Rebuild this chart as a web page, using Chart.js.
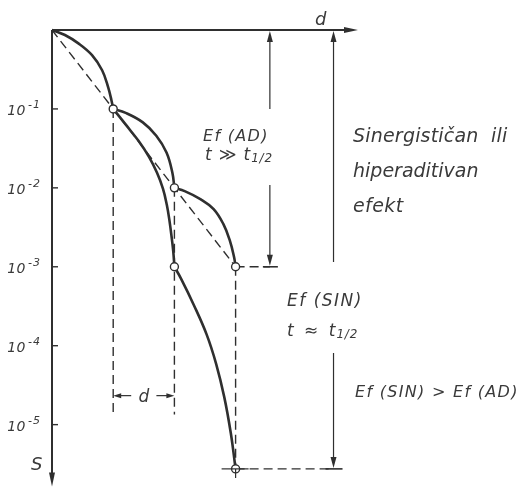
<!DOCTYPE html>
<html>
<head>
<meta charset="utf-8">
<script src="https://cdn.jsdelivr.net/npm/chart.js@4"></script>
<style>
  html, body { margin: 0; padding: 0; background: #fff; }
  #graf { display: block; }
</style>
</head>
<body>
<canvas id="graf" width="517" height="492"></canvas>
<script>
// os doze d i os preživljavanja S (logaritamska)
const dMax = 5;
const sMin = 1.64e-6;

// prvi dio krivulje, zajednički za oba slučaja
const dosePrva = [0, 0.211, 0.431, 0.654, 0.819, 0.917, 0.972, 1];
const sPrva = [1, 0.864, 0.677, 0.480, 0.309, 0.189, 0.128, 0.1];

// aditivni efekt, t >> t1/2
const doseAd2 = [1, 1.204, 1.484, 1.704, 1.871, 1.967, 2];
const sAd2 = [0.1, 0.0890, 0.0675, 0.0457, 0.0280, 0.01553, 0.01];
const doseAd3 = [2, 2.168, 2.431, 2.641, 2.799, 2.905, 2.974, 3];
const sAd3 = [0.01, 0.00908, 0.00715, 0.00538, 0.00349, 0.00216, 0.00134, 0.001];

// sinergistički efekt, t ≈ t1/2
const doseSin2 = [1, 1.209, 1.413, 1.585, 1.716, 1.814, 1.876, 1.920, 1.954, 1.982, 2];
const sSin2 = [0.1, 0.0627, 0.0394, 0.0247, 0.01549, 0.00971, 0.00609, 0.00382, 0.00240, 0.00155, 0.001];
const doseSin3 = [2, 2.106, 2.315, 2.526, 2.683, 2.815, 2.922, 3];
const sSin3 = [0.001, 7.13e-4, 3.31e-4, 1.393e-4, 5.86e-5, 2.23e-5, 7.76e-6, 2.75e-6];

// pravac kroz ishodište i krajnje točke
const dosePravac = [0, 3];
const sPravac = [1, 0.001];

// točke nakon svake doze
const doseTocke = [1, 2, 2, 3, 3];
const sTocke = [0.1, 0.01, 0.001, 0.001, 2.75e-6];

// oznake na osi S
const sOznake = [1e-1, 1e-2, 1e-3, 1e-4, 1e-5];
const sEksponenti = ['-1', '-2', '-3', '-4', '-5'];

// kote: Ef(AD) i Ef(SIN)
const dKotaAd = 3.56, sKotaAd = 0.001;
const dKotaSin = 4.6, sKotaSin = 2.75e-6;
const sDnoCrta = 1.34e-5;   // kraj isprekidanih okomica
const sMjeraD = 2.33e-5;    // visina kote d

const CRTA = '#2f2f2f';
const TEKST = '#3a3a3a';
const FONT = '"DejaVu Sans"';

function niz(dose, s) {
  return dose.map((d, i) => ({ x: d, y: s[i] }));
}

function krivulja(dose, s) {
  return {
    data: niz(dose, s), showLine: true, borderColor: CRTA, borderWidth: 2.6,
    pointRadius: 0, tension: 0.4, clip: false
  };
}

function isprekidana(dose, s) {
  return {
    data: niz(dose, s), showLine: true, borderColor: CRTA, borderWidth: 1.4,
    borderDash: [9, 5], pointRadius: 0, clip: false
  };
}

function strelica(ctx, x, y, dx, dy, duz, pola) {
  ctx.beginPath();
  ctx.moveTo(x, y);
  ctx.lineTo(x - dx * duz - dy * pola, y - dy * duz + dx * pola);
  ctx.lineTo(x - dx * duz + dy * pola, y - dy * duz - dx * pola);
  ctx.closePath();
  ctx.fill();
}

function crta(ctx, x1, y1, x2, y2) {
  ctx.beginPath();
  ctx.moveTo(x1, y1);
  ctx.lineTo(x2, y2);
  ctx.stroke();
}

function tekst(ctx, s, x, y, size, razmak) {
  ctx.font = `italic ${size}px ${FONT}`;
  ctx.letterSpacing = (razmak || 0) + 'px';
  ctx.fillText(s, x, y);
  const w = ctx.measureText(s).width;
  ctx.letterSpacing = '0px';
  return w;
}

// t s indeksom 1/2
function tPola(ctx, x, y) {
  const w = tekst(ctx, 't', x, y, 17, 0);
  tekst(ctx, '1/2', x + w + 1, y + 2, 12, 0.8);
}

const osi = {
  id: 'osi',
  beforeDatasetsDraw(chart) {
    const { ctx, scales: { x, y } } = chart;
    const x0 = x.getPixelForValue(0);
    const y0 = y.getPixelForValue(1);
    const xK = x.getPixelForValue(dMax);
    const yK = y.getPixelForValue(sMin);
    ctx.save();
    ctx.strokeStyle = CRTA;
    ctx.fillStyle = CRTA;
    ctx.lineWidth = 2;
    crta(ctx, x0, y0, xK - 8, y0);
    strelica(ctx, xK, y0, 1, 0, 14, 3);
    crta(ctx, x0, y0, x0, yK - 8);
    strelica(ctx, x0, yK, 0, 1, 14, 3);

    ctx.lineWidth = 1.4;
    ctx.fillStyle = TEKST;
    ctx.textBaseline = 'alphabetic';
    sOznake.forEach((v, i) => {
      const yy = y.getPixelForValue(v);
      crta(ctx, x0, yy, x0 + 6, yy);
      ctx.textAlign = 'right';
      tekst(ctx, '10', 26, yy + 6, 14, 0.5);
      ctx.textAlign = 'left';
      tekst(ctx, sEksponenti[i], 28, yy - 1, 11, 1);
    });
    tekst(ctx, 'S', 31, yK - 17, 18, 0);
    tekst(ctx, 'd', 315, 25, 18, 0);
    ctx.restore();
  },
  afterDatasetsDraw(chart) {
    const { ctx, scales: { x, y } } = chart;
    const y0 = y.getPixelForValue(1);
    ctx.save();
    ctx.strokeStyle = CRTA;
    ctx.fillStyle = CRTA;

    // kota Ef(AD)
    let xx = x.getPixelForValue(dKotaAd);
    let yy = y.getPixelForValue(sKotaAd);
    ctx.lineWidth = 1.2;
    crta(ctx, xx, y0 + 10, xx, 109);
    strelica(ctx, xx, y0 + 1, 0, -1, 11, 3);
    crta(ctx, xx, 185, xx, yy - 10);
    strelica(ctx, xx, yy - 1, 0, 1, 11, 3);
    ctx.lineWidth = 1.6;
    crta(ctx, xx - 7, yy, xx + 8, yy);

    // kota Ef(SIN)
    xx = x.getPixelForValue(dKotaSin);
    yy = y.getPixelForValue(sKotaSin);
    ctx.lineWidth = 1.2;
    crta(ctx, xx, y0 + 10, xx, 262);
    strelica(ctx, xx, y0 + 1, 0, -1, 11, 3);
    crta(ctx, xx, 353, xx, yy - 10);
    strelica(ctx, xx, yy - 1, 0, 1, 11, 3);
    ctx.lineWidth = 1.6;
    crta(ctx, xx - 8, yy, xx + 9, yy);

    // križić kod zadnje točke
    const xz = x.getPixelForValue(3);
    ctx.lineWidth = 1.2;
    crta(ctx, xz - 14, yy, xz + 13, yy);
    crta(ctx, xz, yy, xz, yy + 9);

    // kota d između prve i druge doze
    const x1 = x.getPixelForValue(1);
    const x2 = x.getPixelForValue(2);
    const yd = y.getPixelForValue(sMjeraD);
    ctx.lineWidth = 1.2;
    crta(ctx, x1 + 6, yd, x1 + 18, yd);
    strelica(ctx, x1, yd, -1, 0, 8, 2.5);
    crta(ctx, x2 - 18, yd, x2 - 6, yd);
    strelica(ctx, x2, yd, 1, 0, 8, 2.5);

    ctx.fillStyle = TEKST;
    ctx.textAlign = 'center';
    tekst(ctx, 'd', (x1 + x2) / 2, yd + 6, 17, 0);

    ctx.textAlign = 'left';
    tekst(ctx, 'Ef (AD)', 203, 141, 16, 1.3);
    let w = tekst(ctx, 't ≫ ', 205, 160, 17, 0.8);
    tPola(ctx, 205 + w, 160);

    tekst(ctx, 'Sinergističan  ili', 353, 142, 19, 0.2);
    tekst(ctx, 'hiperaditivan', 353, 177, 19, 0);
    tekst(ctx, 'efekt', 353, 212, 19, 0.4);

    tekst(ctx, 'Ef (SIN)', 287, 306, 17, 1.5);
    w = tekst(ctx, 't ≈ ', 287, 336, 17, 2.5);
    tPola(ctx, 287 + w, 336);

    tekst(ctx, 'Ef (SIN) > Ef (AD)', 355, 397, 16, 1.3);
    ctx.restore();
  }
};

const tocke = {
  data: niz(doseTocke, sTocke), showLine: false, pointRadius: 4,
  pointBackgroundColor: '#ffffff', pointBorderColor: CRTA, pointBorderWidth: 1.4,
  clip: false
};

new Chart(document.getElementById('graf'), {
  type: 'scatter',
  data: {
    datasets: [
      tocke,
      krivulja(dosePrva, sPrva),
      krivulja(doseAd2, sAd2),
      krivulja(doseAd3, sAd3),
      krivulja(doseSin2, sSin2),
      krivulja(doseSin3, sSin3),
      isprekidana(dosePravac, sPravac),
      isprekidana([1, 1], [0.1, sDnoCrta]),
      isprekidana([2, 2], [0.01, sDnoCrta]),
      isprekidana([3, 3], [0.001, sKotaSin]),
      isprekidana([3, dKotaAd], [0.001, sKotaAd]),
      isprekidana([3, dKotaSin], [sKotaSin, sKotaSin])
    ]
  },
  options: {
    responsive: false,
    animation: false,
    devicePixelRatio: 1,
    layout: { padding: { left: 52, right: 159, top: 30, bottom: 5 } },
    plugins: { legend: { display: false }, tooltip: { enabled: false } },
    scales: {
      x: { type: 'linear', min: 0, max: dMax, display: false },
      y: { type: 'logarithmic', min: sMin, max: 1, display: false }
    }
  },
  plugins: [osi]
});
</script>
</body>
</html>
